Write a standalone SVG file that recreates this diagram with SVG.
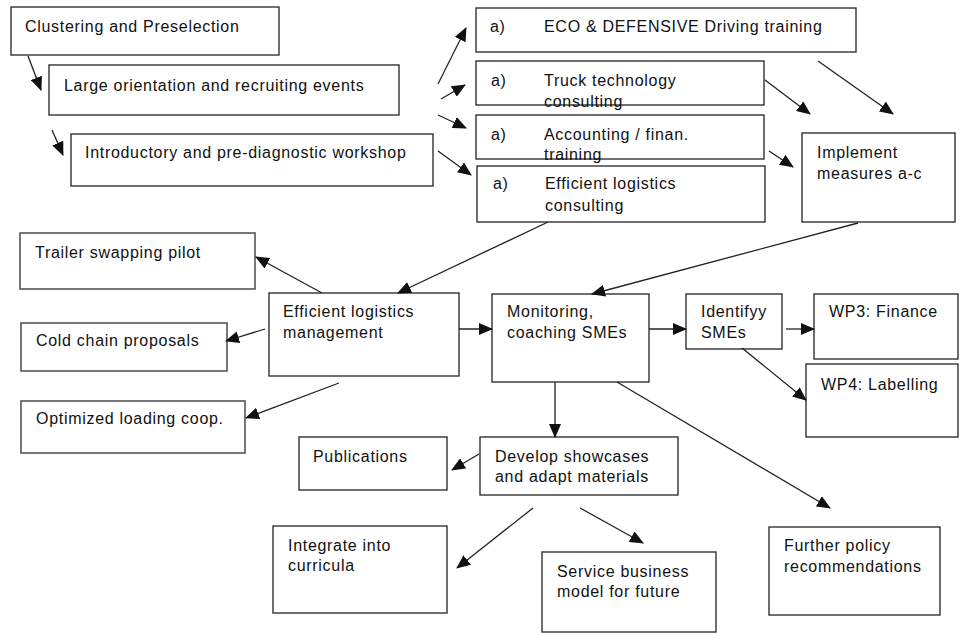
<svg xmlns="http://www.w3.org/2000/svg" width="960" height="633" viewBox="0 0 960 633">
<style>
.b{fill:#fff;stroke:#222;stroke-width:1.3}
.g{fill:#fff;stroke:#555;stroke-width:1.6}
text{font-family:"Liberation Sans",Arial,sans-serif;font-size:16px;fill:#111;letter-spacing:0.7px}
.c line{stroke:#222;stroke-width:1.3;marker-end:url(#ah)}
.c line.n{marker-end:none}
</style>
<defs>
<marker id="ah" markerUnits="userSpaceOnUse" markerWidth="14" markerHeight="12" viewBox="0 0 14 12" refX="13" refY="6" orient="auto">
<path d="M0,0 L14,6 L0,12 z" fill="#111"/>
</marker>
</defs>
<rect width="960" height="633" fill="#fff"/>
<g id="clustering"><rect class="b" x="11" y="7" width="268" height="48"/><text x="25" y="32">Clustering and Preselection</text></g>
<g id="large-orientation"><rect class="b" x="49" y="65" width="350" height="50"/><text x="64" y="91">Large orientation and recruiting events</text></g>
<g id="introductory"><rect class="b" x="71" y="134" width="362" height="52"/><text x="85" y="158">Introductory and pre-diagnostic workshop</text></g>
<g id="eco"><rect class="b" x="476" y="8" width="380" height="44"/><text x="490" y="32">a)</text><text x="544" y="32">ECO &amp; DEFENSIVE Driving training</text></g>
<g id="truck"><rect class="b" x="476" y="61" width="288" height="44"/><text x="491" y="86">a)</text><text x="544" y="86">Truck technology</text><text x="544" y="107">consulting</text></g>
<g id="accounting"><rect class="b" x="476" y="115" width="288" height="44"/><text x="491" y="140">a)</text><text x="544" y="140">Accounting / finan.</text><text x="544" y="160">training</text></g>
<g id="efficient-consulting"><rect class="b" x="477" y="166" width="288" height="56"/><text x="493" y="189">a)</text><text x="545" y="189">Efficient logistics</text><text x="545" y="211">consulting</text></g>
<g id="implement"><rect class="b" x="802" y="133" width="153" height="89"/><text x="817" y="158">Implement</text><text x="817" y="179">measures a-c</text></g>
<g id="trailer"><rect class="g" x="20" y="233" width="235" height="56"/><text x="35" y="258">Trailer swapping pilot</text></g>
<g id="cold-chain"><rect class="g" x="21" y="323" width="206" height="48"/><text x="36" y="346">Cold chain proposals</text></g>
<g id="optimized"><rect class="g" x="21" y="401" width="224" height="52"/><text x="36" y="424">Optimized loading coop.</text></g>
<g id="logistics-mgmt"><rect class="b" x="269" y="293" width="190" height="83"/><text x="283" y="317">Efficient logistics</text><text x="283" y="338">management</text></g>
<g id="monitoring"><rect class="b" x="492" y="294" width="157" height="88"/><text x="507" y="317">Monitoring,</text><text x="507" y="338">coaching SMEs</text></g>
<g id="identify"><rect class="b" x="686" y="294" width="96" height="55"/><text x="701" y="317">Identifyy</text><text x="701" y="338">SMEs</text></g>
<g id="wp3"><rect class="b" x="814" y="294" width="144" height="65"/><text x="829" y="317">WP3: Finance</text></g>
<g id="wp4"><rect class="b" x="806" y="364" width="152" height="73"/><text x="821" y="390">WP4: Labelling</text></g>
<g id="publications"><rect class="b" x="299" y="437" width="148" height="53"/><text x="313" y="462">Publications</text></g>
<g id="develop"><rect class="b" x="480" y="437" width="198" height="58"/><text x="495" y="462">Develop showcases</text><text x="495" y="482">and adapt materials</text></g>
<g id="integrate"><rect class="b" x="273" y="526" width="174" height="87"/><text x="288" y="551">Integrate into</text><text x="288" y="571">curricula</text></g>
<g id="service"><rect class="b" x="542" y="552" width="174" height="80"/><text x="557" y="577">Service business</text><text x="557" y="597">model for future</text></g>
<g id="policy"><rect class="b" x="769" y="527" width="171" height="88"/><text x="784" y="551">Further policy</text><text x="784" y="572">recommendations</text></g>
<g id="connectors" class="c">
<line x1="28" y1="56" x2="41" y2="90"/>
<line x1="52" y1="130" x2="63" y2="155"/>
<line x1="438" y1="84" x2="466" y2="28"/>
<line x1="441" y1="99" x2="465" y2="85"/>
<line x1="438" y1="115" x2="466" y2="128"/>
<line x1="438" y1="151" x2="471" y2="175"/>
<line x1="818" y1="61" x2="893" y2="114"/>
<line x1="765" y1="80" x2="810" y2="114"/>
<line x1="769" y1="151" x2="793" y2="167"/>
<line x1="858" y1="223" x2="592" y2="294"/>
<line x1="548" y1="222" x2="398" y2="293"/>
<line x1="322" y1="293" x2="256" y2="257"/>
<line x1="265" y1="329" x2="226" y2="341"/>
<line x1="339" y1="383" x2="246" y2="418"/>
<line x1="459" y1="329" x2="492" y2="329"/>
<line x1="649" y1="329" x2="686" y2="329"/>
<line x1="786" y1="329" x2="814" y2="329"/>
<line x1="742" y1="348" x2="806" y2="400"/>
<line x1="555" y1="382" x2="555" y2="437"/>
<line x1="617" y1="382" x2="830" y2="508"/>
<line x1="479" y1="454" x2="452" y2="470"/>
<line x1="533" y1="508" x2="457" y2="568"/>
<line x1="580" y1="508" x2="643" y2="543"/>
</g>
</svg>
